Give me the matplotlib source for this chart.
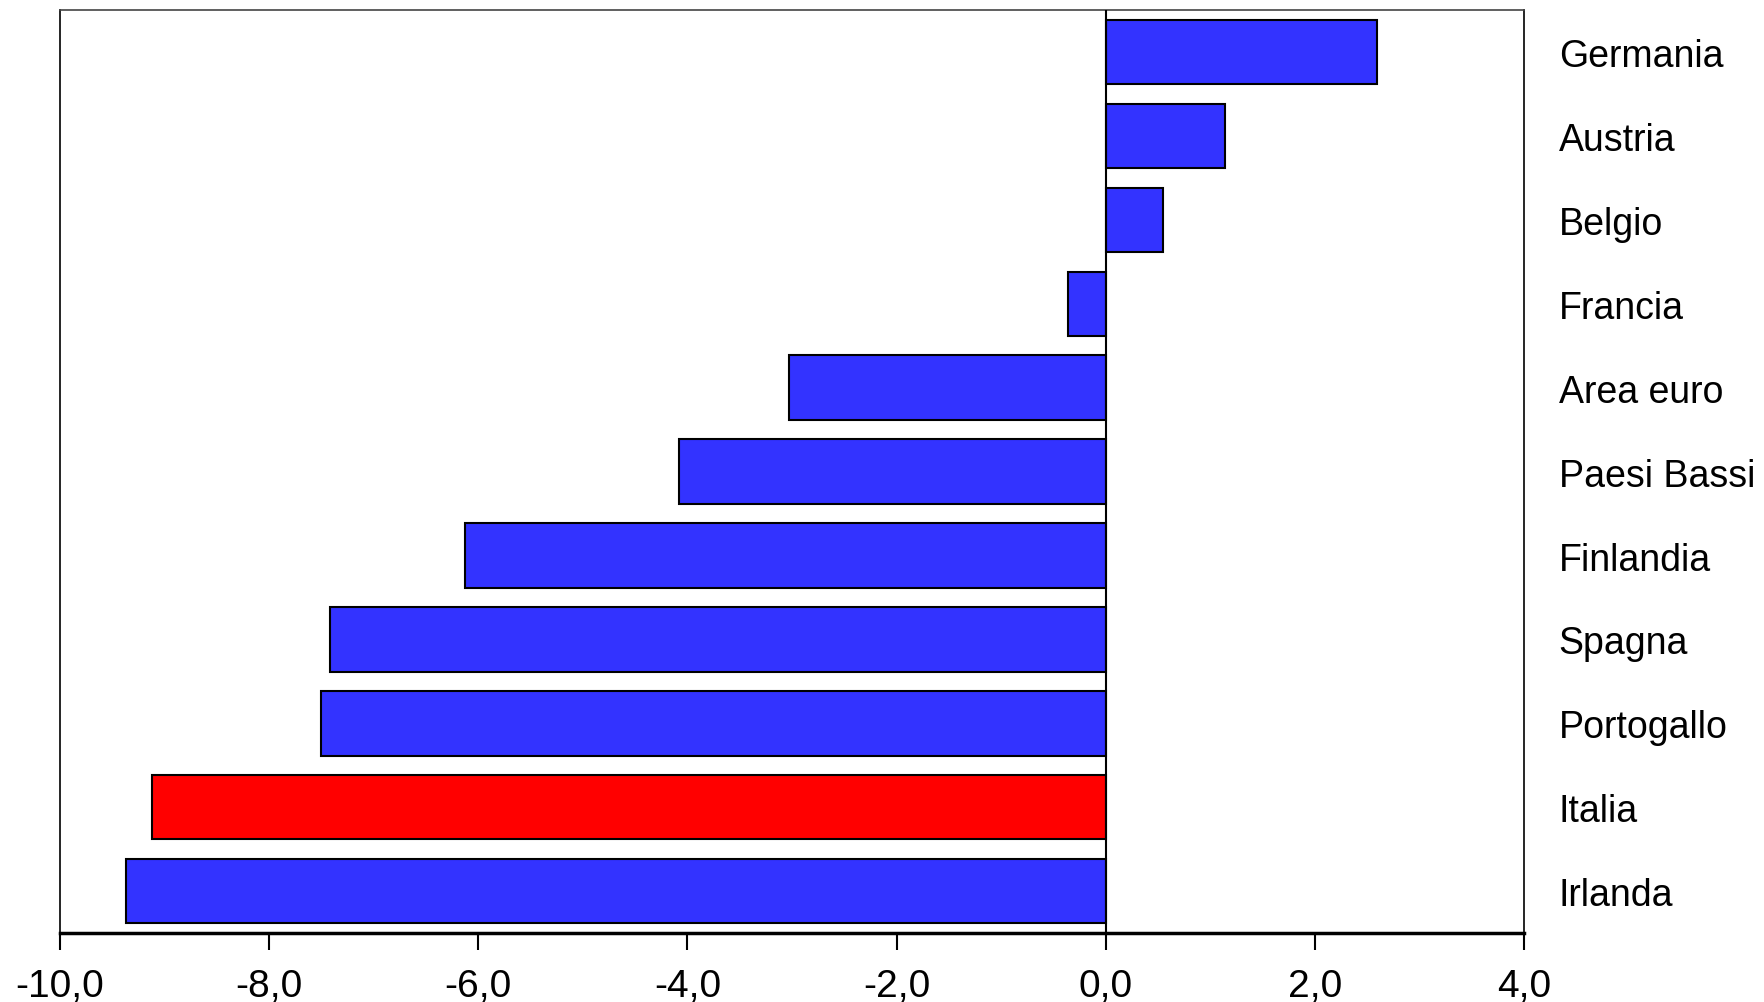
import numpy as np
import matplotlib
matplotlib.use("Agg")
import matplotlib.pyplot as plt
from matplotlib.ticker import FuncFormatter

# data, bottom to top
countries = ["Irlanda", "Italia", "Portogallo", "Spagna", "Finlandia",
             "Paesi Bassi", "Area euro", "Francia", "Belgio", "Austria", "Germania"]
values = [-9.37, -9.12, -7.50, -7.42, -6.13, -4.08, -3.03, -0.36, 0.55, 1.14, 2.59]
highlight = "Italia"

blue = "#3333ff"
red = "#ff0000"
colors = [red if c == highlight else blue for c in countries]

plt.rcParams["font.family"] = ["Liberation Sans", "DejaVu Sans"]

fig = plt.figure(figsize=(17.64, 10.03), dpi=100)
ax = fig.add_axes([0.034, 0.0688, 0.83, 0.920])

y = np.arange(len(countries))
ax.barh(y, values, height=0.77, color=colors, edgecolor="black", linewidth=1.5, zorder=2)
ax.axvline(0, color="black", linewidth=1.5, zorder=3)

ax.set_xlim(-10, 4)
ax.set_ylim(-0.5, len(countries) - 0.5)
ax.set_xticks(np.arange(-10, 5, 2))
ax.xaxis.set_major_formatter(FuncFormatter(lambda v, p: f"{v:.1f}".replace(".", ",")))
ax.tick_params(axis="x", direction="out", length=12, width=1.5, pad=13, labelsize=28)

ax.yaxis.tick_right()
ax.set_yticks(y)
ax.set_yticklabels(countries, fontsize=27)
ax.tick_params(axis="y", length=0, pad=25)

ax.spines["bottom"].set_linewidth(2.5)
ax.spines["left"].set_linewidth(1.2)
ax.spines["right"].set_linewidth(1.2)
ax.spines["top"].set_linewidth(1.2)
ax.spines["top"].set_color("#444444")

fig.savefig("out.png", dpi=100)
